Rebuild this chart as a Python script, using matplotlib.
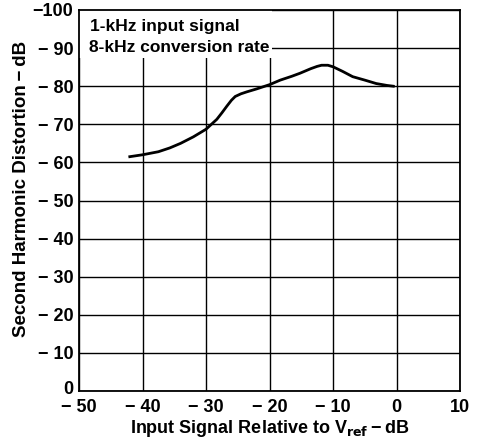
import matplotlib
matplotlib.use("Agg")
import matplotlib.pyplot as plt
from matplotlib.patches import Rectangle
import matplotlib.transforms as mtransforms

# Data
x_vals = [-42, -40, -37.5, -35.7, -34, -32, -30, -28.3, -27.5, -26.7, -26, -25.4, -24.5, -23.6, -22, -20, -18.3, -16.5, -15.2, -13.5, -12.5, -11.8, -10.8, -10, -8.5, -6.9, -5, -3.2, -1.5, -0.5]
y_vals = [-61.5, -62.0, -62.8, -63.8, -65.0, -66.7, -68.7, -71.3, -73.0, -74.8, -76.3, -77.3, -78.0, -78.5, -79.3, -80.4, -81.6, -82.6, -83.4, -84.6, -85.2, -85.5, -85.5, -85.1, -83.9, -82.5, -81.6, -80.7, -80.2, -80.0]

x_ticks = [-50, -40, -30, -20, -10, 0, 10]
x_ticklabels = ["\u2212 50", "\u2212 40", "\u2212 30", "\u2212 20", "\u2212 10", "0", "10"]
y_ticks = [0, -10, -20, -30, -40, -50, -60, -70, -80, -90, -100]
y_ticklabels = ["0", "\u2212 10", "\u2212 20", "\u2212 30", "\u2212 40", "\u2212 50", "\u2212 60", "\u2212 70", "\u2212 80", "\u2212 90", "\u2212100"]
annotation_lines = ["1-kHz input signal", "8-kHz conversion rate"]

plt.rcParams['font.family'] = ['Liberation Sans', 'DejaVu Sans']

fig = plt.figure(figsize=(4.78, 4.41), dpi=100)
ax = fig.add_axes([79/478, 50/441, 381/478, 381/441])

ax.set_xlim(-50, 10)
ax.set_ylim(0, -100)
ax.set_xticks(x_ticks)
ax.set_xticklabels(x_ticklabels)
ax.set_yticks(y_ticks)
ax.set_yticklabels(y_ticklabels)
ax.tick_params(length=0, labelsize=13)
ax.tick_params(axis='x', pad=6)
ax.tick_params(axis='y', pad=4)
for lbl in ax.get_xticklabels() + ax.get_yticklabels():
    lbl.set_fontweight('bold')
# the "0" label on the y axis sits a little above its gridline
zero_lbl = ax.get_yticklabels()[0]
zero_lbl.set_transform(zero_lbl.get_transform() +
                       mtransforms.ScaledTranslation(0, 3/100, fig.dpi_scale_trans))

ax.grid(True, color='black', linewidth=1.0)
ax.set_axisbelow(True)
for s in ax.spines.values():
    s.set_linewidth(1.3)

ax.plot(x_vals, y_vals, color='black', linewidth=2.0, zorder=3)

# white block behind the note, hiding the grid there
ax.add_patch(Rectangle((-50, -100), 30.4, 12.6, facecolor='white',
                       edgecolor='none', zorder=1))
ax.text(-48.3, -95.8, annotation_lines[0], fontsize=12.5, fontweight='bold',
        va='center', ha='left', zorder=4)
ax.text(-48.5, -90.2, annotation_lines[1], fontsize=12.5, fontweight='bold',
        va='center', ha='left', zorder=4)

ax.set_xlabel("Input Signal Relative to V$_{\\mathbf{ref}}$\u2009\u2212\u2009dB", fontsize=13,
              fontweight='bold', labelpad=1)
ax.set_ylabel("Second Harmonic Distortion\u2009\u2212\u2009dB", fontsize=13.5,
              fontweight='bold')
ax.yaxis.set_label_coords(-0.128, 0.53)

fig.savefig("out.png", dpi=100)
